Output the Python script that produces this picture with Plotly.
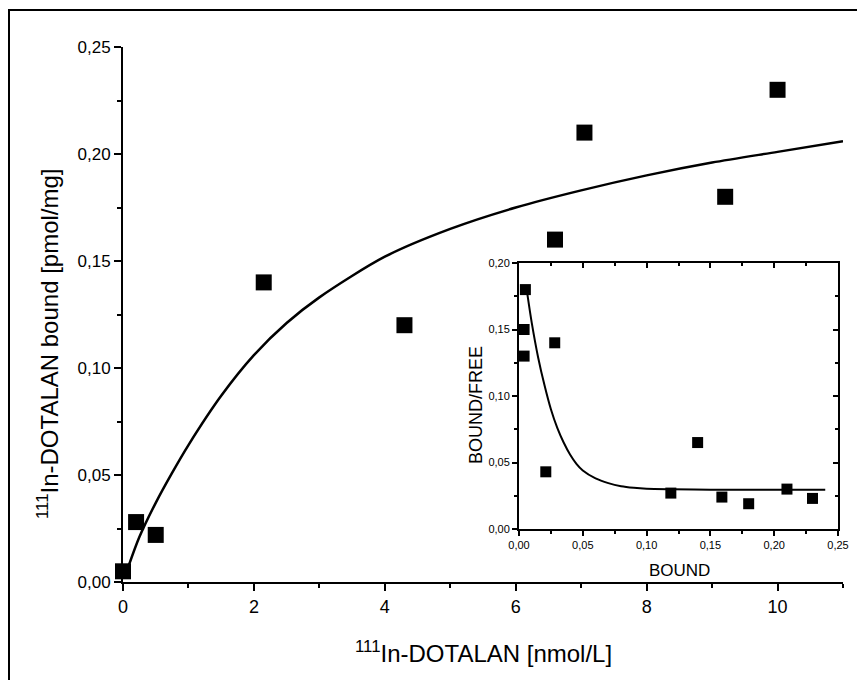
import plotly.graph_objects as go

# ---- main saturation data ----
conc = [0, 0.2, 0.5, 2.15, 4.3, 6.6, 7.05, 9.2, 10.0]
bound = [0.005, 0.028, 0.022, 0.14, 0.12, 0.16, 0.21, 0.18, 0.23]

# fitted curve
fit_conc = [0.08, 0.25, 0.5, 0.75, 1.0, 1.5, 2.0, 2.5, 3.0, 4.0, 5.0, 6.0, 7.0, 8.0, 9.0, 10.0, 11.0]
fit_bound = [0.007, 0.021, 0.037, 0.051, 0.064, 0.087, 0.106, 0.121, 0.133, 0.152, 0.165, 0.175, 0.183, 0.190, 0.196, 0.201, 0.206]

# ---- inset (Scatchard) data ----
sc_bound = [0.005, 0.004, 0.004, 0.028, 0.021, 0.119, 0.14, 0.159, 0.18, 0.21, 0.23]
sc_ratio = [0.18, 0.15, 0.13, 0.14, 0.043, 0.027, 0.065, 0.024, 0.019, 0.030, 0.023]

sc_fit_bound = [0.0065, 0.010, 0.015, 0.020, 0.025, 0.030, 0.035, 0.040, 0.045, 0.050, 0.060,
                0.070, 0.080, 0.090, 0.100, 0.120, 0.150, 0.200, 0.240]
sc_fit_ratio = [0.177, 0.155, 0.129, 0.108, 0.090, 0.076, 0.065, 0.056, 0.049, 0.044, 0.038,
                0.0345, 0.0322, 0.031, 0.0303, 0.0299, 0.0296, 0.0296, 0.0296]

FONT = "Liberation Sans, Arial, sans-serif"

# pixel layout helpers (figure coordinates; page has an 8px body margin)
L, R, T, B = 115, 835, 39, 574
W, H = 857, 672
def px(x):
    return (x - L) / (R - L)
def py(y):
    return (B - y) / (B - T)

fig = go.Figure()

fig.add_trace(go.Scatter(x=fit_conc, y=fit_bound, mode="lines",
                         line=dict(color="black", width=2.5, shape="spline", smoothing=0.8),
                         showlegend=False, hoverinfo="skip"))
fig.add_trace(go.Scatter(x=conc, y=bound, mode="markers",
                         marker=dict(symbol="square", size=16, color="black"),
                         cliponaxis=False, showlegend=False))

fig.add_trace(go.Scatter(x=sc_fit_bound, y=sc_fit_ratio, mode="lines",
                         line=dict(color="black", width=2, shape="spline", smoothing=0.8),
                         xaxis="x2", yaxis="y2", showlegend=False, hoverinfo="skip"))
fig.add_trace(go.Scatter(x=sc_bound, y=sc_ratio, mode="markers",
                         marker=dict(symbol="square", size=11, color="black"),
                         xaxis="x2", yaxis="y2", cliponaxis=False, showlegend=False))
# dummy trace for the mirrored (top/right) inset axes
fig.add_trace(go.Scatter(x=[None], y=[None], xaxis="x3", yaxis="y3",
                         showlegend=False, hoverinfo="skip"))

inset_dom_x = [px(511), px(830)]
inset_dom_y = [py(521), py(255)]

fig.update_layout(
    width=W, height=H,
    margin=dict(l=L, r=W - R, t=T, b=H - B),
    paper_bgcolor="white", plot_bgcolor="white",
    separators=",.",
    font=dict(family=FONT, color="black"),
    xaxis=dict(range=[0, 11], domain=[0, 1], showgrid=False, zeroline=False,
               showline=True, linecolor="black", linewidth=2,
               ticks="outside", ticklen=7, tickwidth=2, tickcolor="black",
               tickvals=[0, 2, 4, 6, 8, 10], tickfont=dict(size=18, family=FONT),
               minor=dict(tickvals=[1, 3, 5, 7, 9, 11], ticks="outside", ticklen=4,
                          tickwidth=2, tickcolor="black")),
    yaxis=dict(range=[0, 0.25], domain=[0, 1], showgrid=False, zeroline=False,
               showline=True, linecolor="black", linewidth=2,
               ticks="outside", ticklen=7, tickwidth=2, tickcolor="black",
               tickvals=[0, 0.05, 0.10, 0.15, 0.20, 0.25], tickformat=".2f",
               tickfont=dict(size=17, family=FONT),
               minor=dict(tickvals=[0.025, 0.075, 0.125, 0.175, 0.225], ticks="outside",
                          ticklen=4, tickwidth=2, tickcolor="black")),
    xaxis2=dict(range=[0, 0.25], domain=inset_dom_x, anchor="y2", showgrid=False,
                zeroline=False, showline=True, linecolor="black", linewidth=2,
                ticks="outside", ticklen=5, tickwidth=1.5, tickcolor="black",
                tickvals=[0, 0.05, 0.10, 0.15, 0.20, 0.25], tickformat=".2f",
                tickfont=dict(size=11, family=FONT),
                minor=dict(tickvals=[0.025, 0.075, 0.125, 0.175, 0.225], ticks="outside",
                           ticklen=3, tickwidth=1.5, tickcolor="black")),
    yaxis2=dict(range=[0, 0.20], domain=inset_dom_y, anchor="x2", showgrid=False,
                zeroline=False, showline=True, linecolor="black", linewidth=2,
                ticks="outside", ticklen=5, tickwidth=1.5, tickcolor="black",
                tickvals=[0, 0.05, 0.10, 0.15, 0.20], tickformat=".2f",
                tickfont=dict(size=11, family=FONT),
                minor=dict(tickvals=[0.025, 0.075, 0.125, 0.175], ticks="outside",
                           ticklen=3, tickwidth=1.5, tickcolor="black")),
    xaxis3=dict(range=[0, 0.25], overlaying="x2", anchor="y3", side="top",
                showgrid=False, zeroline=False, showline=True, linecolor="black",
                linewidth=2, ticks="inside", ticklen=5, tickwidth=1.5, tickcolor="black",
                tickvals=[0, 0.05, 0.10, 0.15, 0.20, 0.25], showticklabels=False,
                minor=dict(tickvals=[0.025, 0.075, 0.125, 0.175, 0.225], ticks="inside",
                           ticklen=3, tickwidth=1.5, tickcolor="black")),
    yaxis3=dict(range=[0, 0.20], overlaying="y2", anchor="x3", side="right",
                showgrid=False, zeroline=False, showline=True, linecolor="black",
                linewidth=2, ticks="inside", ticklen=5, tickwidth=1.5, tickcolor="black",
                tickvals=[0, 0.05, 0.10, 0.15, 0.20], showticklabels=False,
                minor=dict(tickvals=[0.025, 0.075, 0.125, 0.175], ticks="inside",
                           ticklen=3, tickwidth=1.5, tickcolor="black")),
)

# titles as annotations
fig.add_annotation(text="<sup>111</sup>In-DOTALAN bound [pmol/mg]", textangle=-90,
                   xref="paper", yref="paper", x=px(40), y=py(336),
                   xanchor="center", yanchor="middle", showarrow=False,
                   font=dict(size=24, family=FONT, color="black"))
fig.add_annotation(text="<sup>111</sup>In-DOTALAN [nmol/L]",
                   xref="paper", yref="paper", x=px(475), y=py(644),
                   xanchor="center", yanchor="middle", showarrow=False,
                   font=dict(size=24, family=FONT, color="black"))
fig.add_annotation(text="BOUND/FREE", textangle=-90,
                   xref="paper", yref="paper", x=px(468), y=py(397),
                   xanchor="center", yanchor="middle", showarrow=False,
                   font=dict(size=18, family=FONT, color="black"))
fig.add_annotation(text="BOUND",
                   xref="paper", yref="paper", x=px(671), y=py(562),
                   xanchor="center", yanchor="middle", showarrow=False,
                   font=dict(size=17, family=FONT, color="black"))

# outer frame: only left and top edges are visible in the reference
fig.add_shape(type="line", xref="paper", yref="paper",
              x0=px(1), x1=px(1), y0=py(H), y1=py(2),
              line=dict(color="black", width=2))
fig.add_shape(type="line", xref="paper", yref="paper",
              x0=px(0), x1=px(W), y0=py(2), y1=py(2),
              line=dict(color="black", width=2))

fig.write_html("out.html")
